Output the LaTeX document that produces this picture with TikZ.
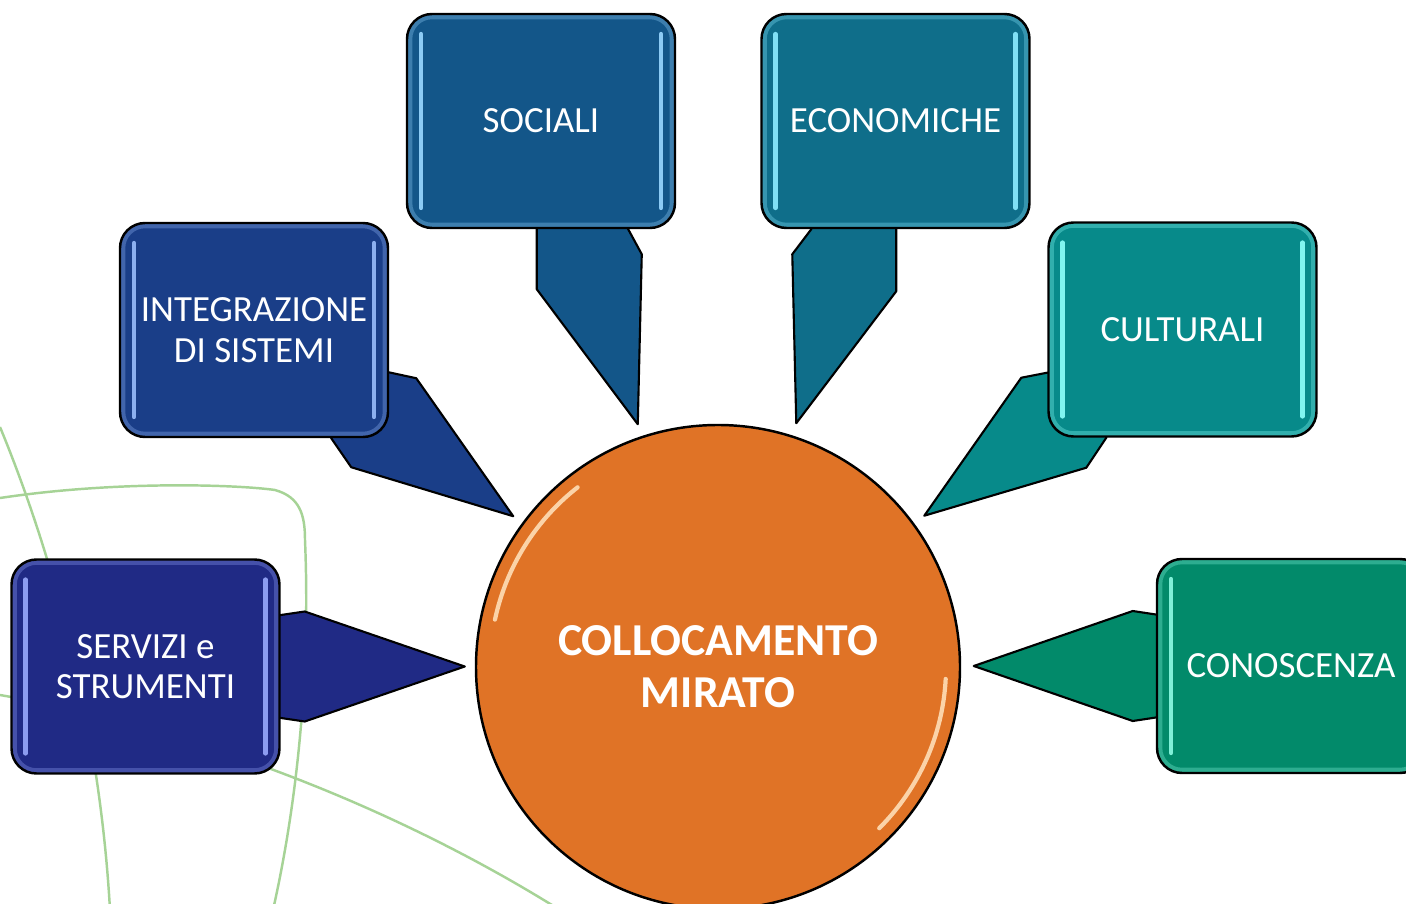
\documentclass[tikz,border=0pt]{standalone}
\usepackage{fontspec}
\setmainfont{Carlito}
\usetikzlibrary{backgrounds}

\definecolor{servcol}{HTML}{202A85}
\definecolor{integcol}{HTML}{1A3E88}
\definecolor{soccol}{HTML}{135689}
\definecolor{ecocol}{HTML}{0F6E8A}
\definecolor{cultcol}{HTML}{078A8A}
\definecolor{conocol}{HTML}{028A6A}
\definecolor{servbar}{HTML}{8C9CF0}
\definecolor{integbar}{HTML}{8CB0F0}
\definecolor{socbar}{HTML}{8CCBF5}
\definecolor{ecobar}{HTML}{80E0F5}
\definecolor{cultbar}{HTML}{80F5F0}
\definecolor{conobar}{HTML}{80F0D8}
\definecolor{hubcol}{HTML}{E07326}
\definecolor{hubglow}{HTML}{FBD3A8}
\definecolor{leafline}{HTML}{A6D396}

\begin{document}
\begin{tikzpicture}[
  every node/.style={text=white, align=center},
  callout/.style 2 args={rectangle, rounded corners=2.5mm, draw=black, line width=0.7pt,
    fill=#1, minimum width=2.68cm, minimum height=2.14cm, inner sep=0pt,
    font=\fontsize{10.5}{11.5}\selectfont,
    path picture={
      \draw[#2, line width=3pt, opacity=0.35, rounded corners=2.5mm]
        (path picture bounding box.south west) rectangle (path picture bounding box.north east);
      \draw[#2, line width=1.2pt, line cap=round]
        ([xshift=1.4mm, yshift=-2mm]path picture bounding box.north west) --
        ([xshift=1.4mm, yshift=2mm]path picture bounding box.south west);
      \draw[#2, line width=1.2pt, line cap=round]
        ([xshift=-1.4mm, yshift=-2mm]path picture bounding box.north east) --
        ([xshift=-1.4mm, yshift=2mm]path picture bounding box.south east);
    }},
  tail/.style={fill=#1, draw=black, line width=0.6pt, line join=round},
  leaf/.style={leafline, line width=0.7pt}
]
  \useasboundingbox (0,0) rectangle (14.06,-9.04);

  \node[callout={soccol}{socbar}] (soc) at (5.41,-1.21) {SOCIALI};
  \node[callout={ecocol}{ecobar}] (eco) at (8.955,-1.21) {ECONOMICHE};
  \node[callout={integcol}{integbar}] (integ) at (2.54,-3.30) {INTEGRAZIONE\\DI SISTEMI};
  \node[callout={cultcol}{cultbar}] (cult) at (11.825,-3.295) {CULTURALI};
  \node[callout={servcol}{servbar}] (serv) at (1.455,-6.665) {SERVIZI e\\STRUMENTI};
  \node[callout={conocol}{conobar}] (cono) at (12.91,-6.66) {CONOSCENZA};

  \node[circle, draw=black, line width=0.7pt, fill=hubcol, minimum size=4.84cm,
    font=\bfseries\fontsize{13}{14.8}\selectfont] (hub) at (7.18,-6.67) {COLLOCAMENTO\\MIRATO};
  \draw[hubglow, line width=1.2pt, line cap=round]
    ([shift={(168:2.28)}]hub.center) arc[start angle=168, end angle=128, radius=2.28];
  \draw[hubglow, line width=1.2pt, line cap=round]
    ([shift={(-3:2.28)}]hub.center) arc[start angle=-3, end angle=-45, radius=2.28];

  \begin{scope}[on background layer]
    % green lines behind
    \draw[leaf] (0,-4.27) .. controls (0.55,-5.6) and (1.0,-7.3) .. (1.1,-9.1);
    \draw[leaf] (0,-4.98) .. controls (1.2,-4.8) and (2.4,-4.85) .. (2.75,-4.9)
      .. controls (3.0,-4.97) and (3.05,-5.15) .. (3.05,-5.4)
      .. controls (3.1,-6.6) and (3.0,-7.9) .. (2.73,-9.1);
    \draw[leaf] (0,-6.95) .. controls (2.0,-7.3) and (4.0,-8.1) .. (5.6,-9.1);

    % pointers
    \draw[tail=soccol, shift={(soc.south west)}]
      (1.31,0.1) -- (1.31,-0.6) -- (2.32,-1.95) -- (2.36,-0.25) -- (2.17,0.1) -- cycle;
    \draw[tail=ecocol, shift={(eco.south west)}]
      (0.51,0.1) -- (0.51,0) -- (0.32,-0.25) -- (0.36,-1.94) -- (1.36,-0.62) -- (1.36,0.1) -- cycle;
    \draw[tail=integcol, shift={(integ.south east)}]
      (-0.1,0.68) -- (0.27,0.60) -- (1.24,-0.78) -- (-0.38,-0.29) -- (-0.58,0) -- (-0.58,0.1) -- cycle;
    \draw[tail=cultcol, shift={(cult.south west)}]
      (0.1,0.67) -- (-0.26,0.60) -- (-1.23,-0.78) -- (0.39,-0.30) -- (0.59,0) -- (0.59,0.1) -- cycle;
    \draw[tail=servcol, shift={(serv.east)}]
      (-0.1,0.5) -- (0.24,0.55) -- (1.84,0) -- (0.24,-0.55) -- (-0.1,-0.5) -- cycle;
    \draw[tail=conocol, shift={(cono.west)}]
      (0.1,0.5) -- (-0.23,0.55) -- (-1.82,0) -- (-0.23,-0.55) -- (0.1,-0.5) -- cycle;
  \end{scope}
\end{tikzpicture}
\end{document}
